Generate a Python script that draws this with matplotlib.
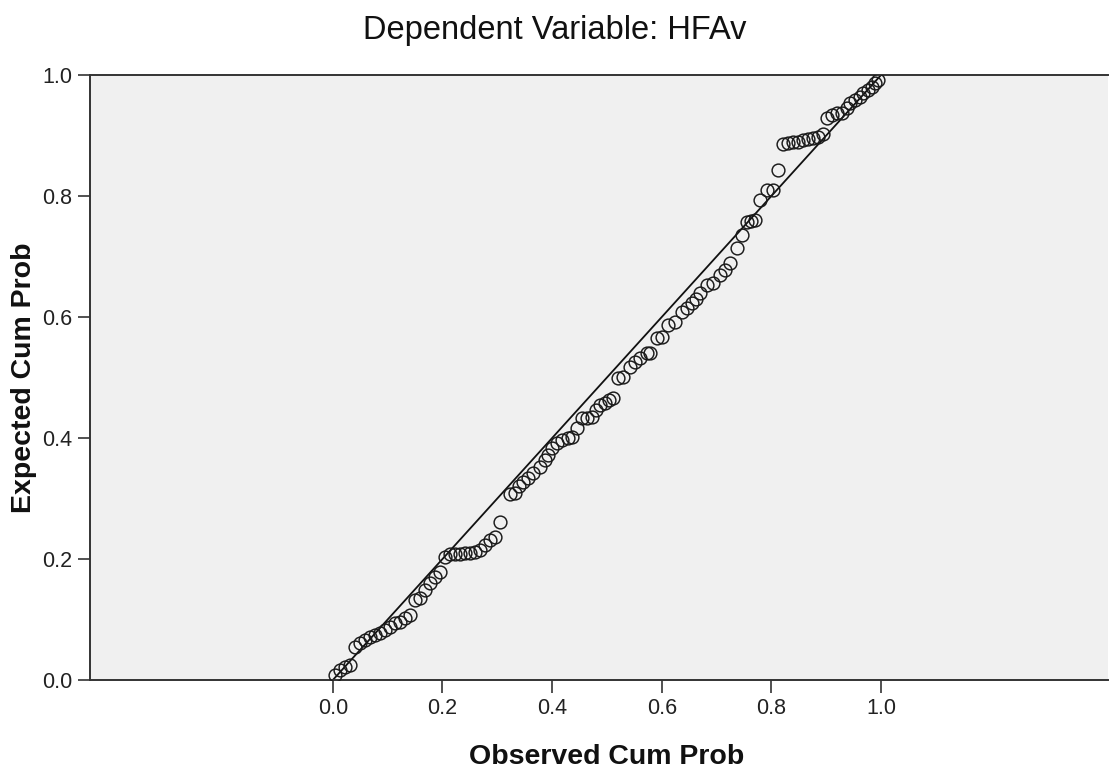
import matplotlib
matplotlib.use("Agg")
import matplotlib.pyplot as plt
import numpy as np

# P-P plot values
obs_cum = [
    0.004, 0.013, 0.022, 0.031, 0.040, 0.049, 0.058, 0.068, 0.077, 0.086,
    0.095, 0.104, 0.113, 0.122, 0.131, 0.141, 0.150, 0.159, 0.168, 0.177,
    0.186, 0.195, 0.204, 0.214, 0.223, 0.232, 0.241, 0.250, 0.259, 0.268,
    0.277, 0.286, 0.296, 0.305,
    0.323, 0.332, 0.340, 0.347, 0.356, 0.365, 0.378, 0.387, 0.393, 0.400,
    0.409, 0.418, 0.429, 0.436, 0.445, 0.454, 0.464, 0.473, 0.480, 0.487,
    0.496, 0.503, 0.511, 0.520, 0.529, 0.542, 0.551, 0.560, 0.573, 0.578,
    0.591, 0.600, 0.611, 0.624, 0.637, 0.646,
    0.655, 0.662, 0.670, 0.682, 0.693, 0.706, 0.715, 0.724, 0.737, 0.746,
    0.755, 0.762, 0.770, 0.779, 0.792, 0.803, 0.812,
    0.821, 0.830, 0.839, 0.849, 0.858, 0.867, 0.876, 0.885, 0.894, 0.901,
    0.911, 0.920, 0.929, 0.938, 0.943, 0.953, 0.962, 0.967, 0.976, 0.984,
    0.989, 0.995,
]
exp_cum = [
    0.008, 0.017, 0.021, 0.025, 0.055, 0.061, 0.066, 0.071, 0.074, 0.078,
    0.083, 0.088, 0.094, 0.096, 0.102, 0.107, 0.132, 0.136, 0.149, 0.160,
    0.170, 0.179, 0.203, 0.208, 0.208, 0.208, 0.210, 0.210, 0.212, 0.215,
    0.223, 0.231, 0.236, 0.261,
    0.307, 0.309, 0.320, 0.327, 0.334, 0.342, 0.352, 0.364, 0.372, 0.383,
    0.392, 0.397, 0.400, 0.402, 0.417, 0.433, 0.433, 0.435, 0.447, 0.455,
    0.458, 0.462, 0.466, 0.499, 0.501, 0.517, 0.526, 0.532, 0.540, 0.540,
    0.565, 0.567, 0.587, 0.592, 0.608, 0.615,
    0.623, 0.630, 0.640, 0.653, 0.656, 0.669, 0.678, 0.689, 0.714, 0.736,
    0.757, 0.758, 0.760, 0.793, 0.810, 0.810, 0.843,
    0.886, 0.888, 0.889, 0.890, 0.892, 0.894, 0.896, 0.898, 0.902, 0.929,
    0.934, 0.937, 0.937, 0.945, 0.954, 0.959, 0.964, 0.970, 0.975, 0.980,
    0.987, 0.992,
]
ticks = [0.0, 0.2, 0.4, 0.6, 0.8, 1.0]
tick_labels = ["0.0", "0.2", "0.4", "0.6", "0.8", "1.0"]

plt.rcParams['font.family'] = ['Liberation Sans', 'DejaVu Sans']

fig = plt.figure(figsize=(11.09, 7.72), dpi=100)
ax = fig.add_axes([90/1109, 1 - 680/772, 1018/1109, 605/772])
ax.set_facecolor('#f0f0f0')

xmin, xmax = -0.443, 1.414
ax.set_xlim(xmin, xmax)
ax.set_ylim(0, 1)

# reference diagonal
ax.plot([0, 1], [0, 1], color='#111111', lw=1.3, zorder=2)
ax.plot(obs_cum, exp_cum, 'o', ms=9.2, mfc='none', mec='#1a1a1a', mew=1.05, zorder=3)

ax.set_xticks(ticks)
ax.set_xticklabels(tick_labels)
ax.set_yticks(ticks)
ax.set_yticklabels(tick_labels)
ax.tick_params(axis='both', length=9, width=1.2, color='#333333', labelsize=15.5,
               labelcolor='#222222', pad=4)

for s in ['left', 'bottom', 'top']:
    ax.spines[s].set_linewidth(1.4)
    ax.spines[s].set_color('#333333')
ax.spines['right'].set_visible(False)

ax.set_xlabel('Observed Cum Prob', fontsize=20.5, fontweight='bold', color='#111111')
ax.xaxis.set_label_coords((0.5 - xmin) / (xmax - xmin), -0.105)
ax.set_ylabel('Expected Cum Prob', fontsize=20.5, fontweight='bold', color='#111111')
ax.yaxis.set_label_coords(-0.052, 0.5)

fig.text(0.5, 1 - 30/772, 'Dependent Variable: HFAv', ha='center', va='center',
         fontsize=23.5, color='#111111')

fig.savefig('out.png', dpi=100, facecolor='white')
